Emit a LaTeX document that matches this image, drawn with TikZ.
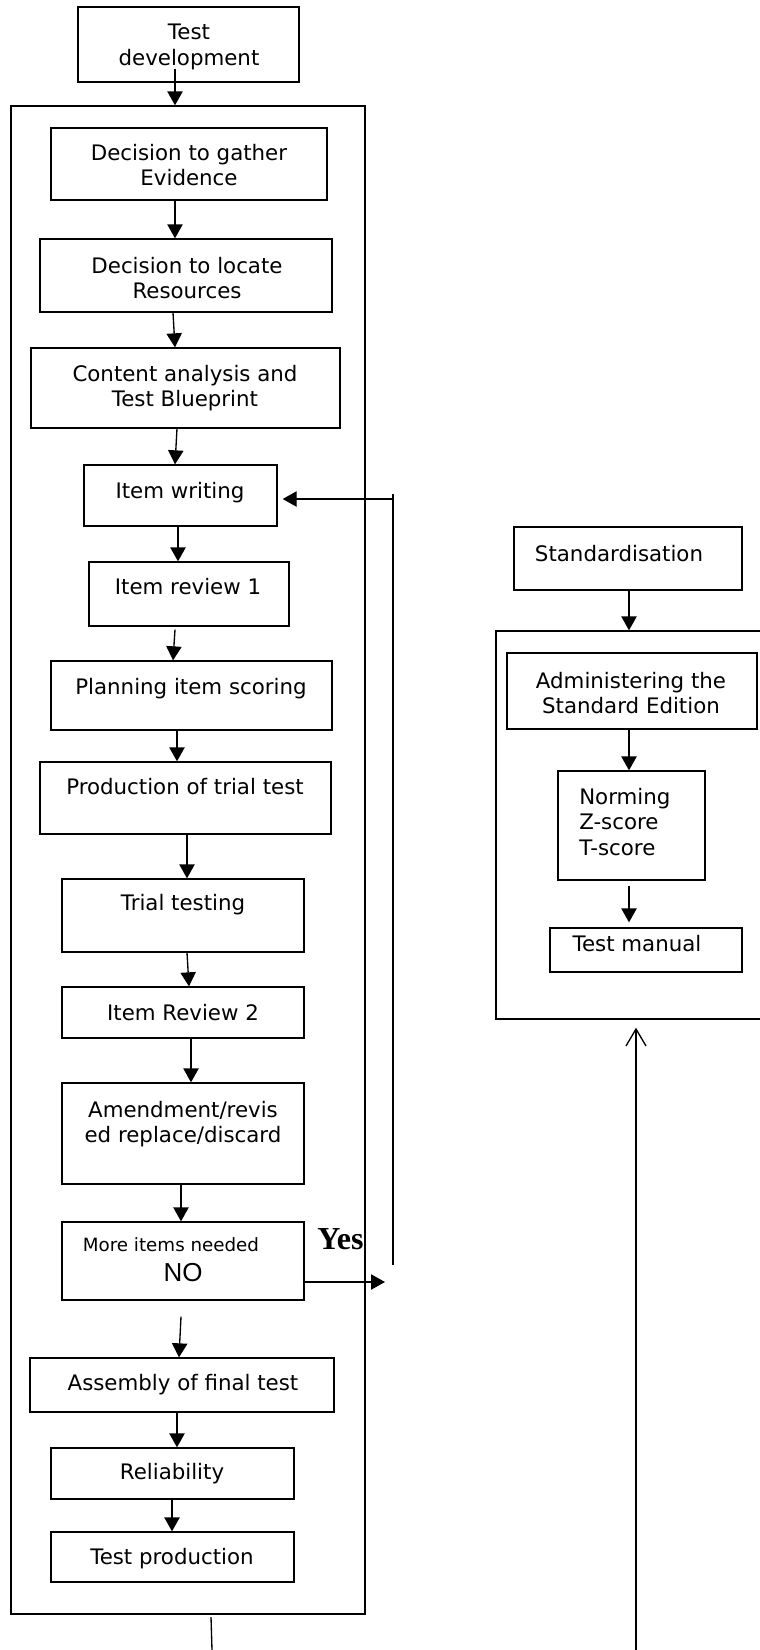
\documentclass[tikz,border=0pt]{standalone}
\usepackage{fontspec}
\setmainfont{DejaVu Sans}
\newfontfamily\arialf{Liberation Sans}
\newfontfamily\timesf{Liberation Serif}
\usetikzlibrary{arrows.meta,fit,calc}
\begin{document}
\begin{tikzpicture}[x=0.75pt,y=-0.75pt,
  box/.style={draw, line width=1pt, inner sep=0pt},
  lbl/.style={inner sep=0pt, anchor=north, align=center, font=\fontsize{16}{19.1}\selectfont},
  arr/.style={line width=1pt, -{Triangle[length=10.5pt,width=11.5pt]}},
  openarr/.style={line width=1pt, -{Straight Barb[length=12.75pt,width=15pt,line width=1pt]}},
  ln/.style={line width=1pt}]
\useasboundingbox (0,0) rectangle (760,1650);

% texts
\node[lbl] (tdT) at (189,24) {Test\\development};
\node[lbl] (dgT) at (189,144) {Decision to gather\\Evidence};
\node[lbl] (dlT) at (187,257) {Decision to locate\\Resources};
\node[lbl] (caT) at (185,365) {Content analysis and\\Test Blueprint};
\node[lbl] (iwT) at (180,482) {Item writing};
\node[lbl] (irT) at (188,578) {Item review 1};
\node[lbl] (pisT) at (191,678) {Planning item scoring};
\node[lbl] (pttT) at (185,778) {Production of trial test};
\node[lbl] (ttT) at (183,894) {Trial testing};
\node[lbl] (ir2T) at (183,1004) {Item Review 2};
\node[lbl] (amT) at (183,1101) {Amendment/revis\\ed replace/discard};
\node[lbl, font=\fontsize{13.7}{16}\selectfont] (miT) at (171,1237) {More items needed};
\node[inner sep=0pt, anchor=north, font=\arialf\fontsize{19.5}{22}\selectfont] (noT) at (183,1263) {NO};
\node[inner sep=0pt, anchor=base west, font=\timesf\bfseries\fontsize{24}{28}\selectfont] (yesT) at (317,1249) {Yes};
\node[lbl] (afsT) at (183,1374) {Assembly of final test};
\node[lbl] (relT) at (172,1463) {Reliability};
\node[lbl] (tpT) at (172,1548) {Test production};
\node[lbl] (stdT) at (619,545) {Standardisation};
\node[lbl] (admT) at (631,672) {Administering the\\Standard Edition};
\node[lbl, anchor=north west, align=left] (nrmT) at (579,788) {Norming\\Z-score\\T-score};
\node[lbl] (tmT) at (637,935) {Test manual};

% boxes
\node[box, fit={(78,7) (299,82)}] (td) {};
\node[box, fit={(11,106) (365,1614)}] (outerL) {};
\node[box, fit={(51,128) (327,200)}] (dg) {};
\node[box, fit={(40,239) (332,312)}] (dl) {};
\node[box, fit={(31,348) (340,428)}] (ca) {};
\node[box, fit={(84,465) (277,526)}] (iw) {};
\node[box, fit={(89,562) (289,626)}] (ir) {};
\node[box, fit={(51,661) (332,730)}] (pis) {};
\node[box, fit={(40,762) (331,834)}] (ptt) {};
\node[box, fit={(62,879) (304,952)}] (tt) {};
\node[box, fit={(62,987) (304,1038)}] (ir2) {};
\node[box, fit={(62,1083) (304,1184)}] (am) {};
\node[box, fit={(62,1222) (304,1300)}] (mi) {};
\node[box, fit={(30,1358) (334,1412)}] (afs) {};
\node[box, fit={(51,1448) (294,1499)}] (rel) {};
\node[box, fit={(51,1532) (294,1582)}] (tp) {};
\node[box, fit={(514,527) (742,590)}] (std) {};
\node[box, fit={(496,631) (775,1019)}] (outerR) {};
\node[box, fit={(507,653) (757,729)}] (adm) {};
\node[box, fit={(558,771) (705,880)}] (nrm) {};
\node[box, fit={(550,928) (742,972)}] (tm) {};

% free ends
\coordinate (yesEnd) at (385,1282);
\coordinate (fbT) at (393,494);
\coordinate (fbB) at (393,1265);
\coordinate (fbH) at (393,499);
\coordinate (botA) at (211,1617);
\coordinate (botB) at (212,1650);
\coordinate (longB) at (636,1650);

% connectors
\draw[arr] ($(td.south -| 175,0)+(0,-14)$) -- (outerL.north -| 175,0);
\draw[arr] (dg.south -| 175,0) -- (dl.north -| 175,0);
\draw[arr] (dl.south -| 173,0) -- (ca.north -| 175,0);
\draw[arr] (ca.south -| 177,0) -- (iw.north -| 175,0);
\draw[arr] (iw.south -| 178,0) -- (ir.north -| 178,0);
\draw[arr] ($(ir.south -| 175,0)+(0,3)$) -- (pis.north -| 173,0);
\draw[arr] (pis.south -| 177,0) -- (ptt.north -| 177,0);
\draw[arr] (ptt.south -| 187,0) -- (tt.north -| 187,0);
\draw[arr] (tt.south -| 187,0) -- (ir2.north -| 189,0);
\draw[arr] (ir2.south -| 191,0) -- (am.north -| 191,0);
\draw[arr] (am.south -| 181,0) -- (mi.north -| 181,0);
\draw[arr] ($(mi.south -| 181,0)+(0,16)$) -- (afs.north -| 179,0);
\draw[arr] (afs.south -| 177,0) -- (rel.north -| 177,0);
\draw[arr] (rel.south -| 172,0) -- (tp.north -| 172,0);
\draw[arr] ($(mi.east |- yesEnd)+(-2,0)$) -- (yesEnd);
\draw[ln] (fbT) -- (fbB);
\draw[arr] (fbH) -- ($(iw.east |- fbH)+(5,0)$);
\draw[arr] (std.south -| 629,0) -- (outerR.north -| 629,0);
\draw[arr] (adm.south -| 629,0) -- (nrm.north -| 629,0);
\draw[arr] ($(nrm.south -| 629,0)+(0,5)$) -- ($(tm.north -| 629,0)+(0,-5)$);
\draw[ln] (botA) -- (botB);
\draw[openarr] (longB) -- ($(outerR.south -| longB)+(0,8)$);
\end{tikzpicture}
\end{document}
